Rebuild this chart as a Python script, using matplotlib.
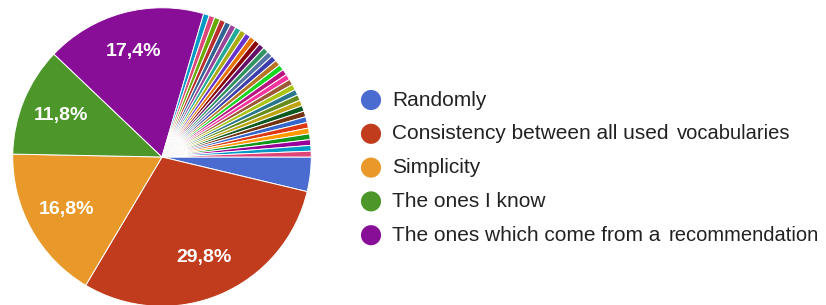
import matplotlib.pyplot as plt

plt.rcParams['font.family'] = ['Liberation Sans', 'DejaVu Sans']

# responses per answer (n = 161)
labels = ['Randomly', 'Consistency between all used vocabularies', 'Simplicity',
          'The ones I know', 'The ones which come from a recommendation']
counts = [6, 48, 27, 19, 28]
main_colors = ['#4a6bd0', '#c03c1c', '#e8992a', '#4c962a', '#880e98']
# last word of these labels was pasted in a slightly different font in the original
split_last = [False, True, False, False, True]

# 33 single "other" answers, each one response
other_counts = [1] * 33
other_colors = ['#0099c6', '#dd4477', '#66aa00', '#b82e2e', '#316395', '#994499',
                '#22aa99', '#aaaa11', '#6633cc', '#e67300', '#8b0707', '#651067',
                '#329262', '#5574a6', '#3b3eac', '#b77322', '#16d620', '#b91383',
                '#f4359e', '#9c5935', '#a9c413', '#2a778d', '#668d1c', '#bea413',
                '#0c5922', '#743411', '#3366cc', '#dc3912', '#ff9900', '#109618',
                '#990099', '#0099c6', '#dd4477']

values = counts + other_counts
colors = main_colors + other_colors


def pct_label(p):
    if p < 5:
        return ''
    return f'{p:.1f}%'.replace('.', ',')


fig = plt.figure(figsize=(8.26, 3.05), dpi=100)
ax = fig.add_axes([12 / 826, -2 / 305, 300 / 826, 300 / 305])
wedges, _, autotexts = ax.pie(values, colors=colors, startangle=0, counterclock=False,
                              autopct=pct_label, pctdistance=0.73,
                              wedgeprops=dict(edgecolor='white', linewidth=0.7))
for t in autotexts:
    t.set_color('white')
    t.set_fontsize(14)
    t.set_fontweight('bold')
ax.set_xlim(-1.005, 1.005)
ax.set_ylim(-1.005, 1.005)
ax.set_aspect('equal')

# legend drawn in pixel coordinates
lg = fig.add_axes([0, 0, 1, 1])
lg.set_xlim(0, 826)
lg.set_ylim(305, 0)
lg.axis('off')
for i, (lab, c) in enumerate(zip(labels, main_colors)):
    y = 100 + i * 33.8
    lg.scatter(371, y, s=210, color=c, edgecolor='none')
    if split_last[i]:
        head, _, tail = lab.rpartition(' ')
        t = lg.text(392, y, head, fontsize=15, color='#222222', va='center', ha='left')
        lg.annotate(tail, xy=(1, 0.5), xycoords=t, xytext=(8, 0),
                    textcoords='offset pixels', fontsize=14.5, color='#222222',
                    va='center', ha='left')
    else:
        lg.text(392, y, lab, fontsize=15, color='#222222', va='center', ha='left')

fig.savefig('out.png', dpi=100)
